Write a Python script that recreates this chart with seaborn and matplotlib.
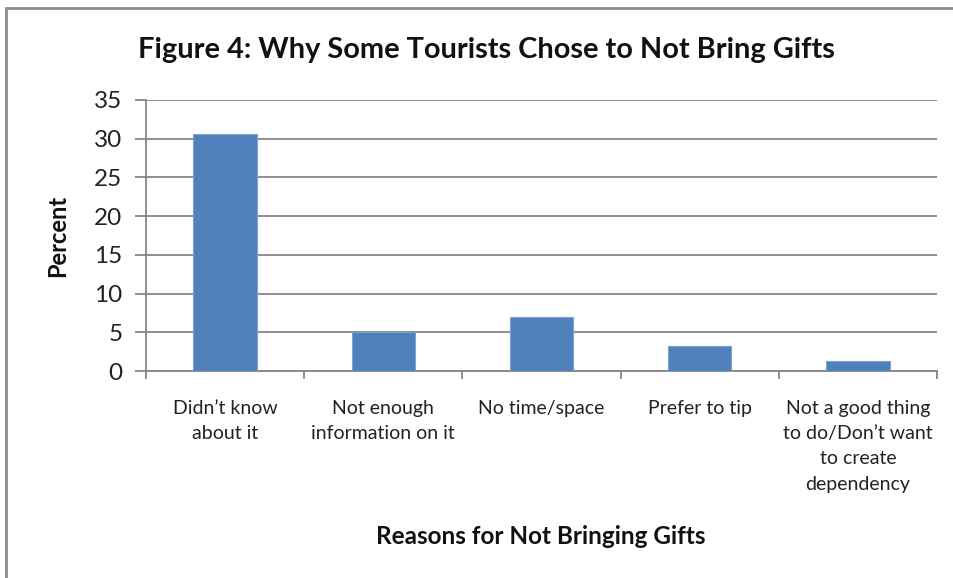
import matplotlib
matplotlib.use("Agg")
import matplotlib.pyplot as plt
import seaborn as sns
import pandas as pd
from matplotlib.patches import Rectangle

categories = [
    "Didn\u2019t know\nabout it",
    "Not enough\ninformation on it",
    "No time/space",
    "Prefer to tip",
    "Not a good thing\nto do/Don\u2019t want\nto create\ndependency",
]
percent = [30.6, 5.1, 7.0, 3.2, 1.3]
y_ticks = [0, 5, 10, 15, 20, 25, 30, 35]

sns.set_theme(style="white")
plt.rcParams["font.family"] = ["Lato", "DejaVu Sans"]

df = pd.DataFrame({"reason": categories, "percent": percent})

W, H = 954, 578
fig = plt.figure(figsize=(W / 100, H / 100), dpi=100)
ax = fig.add_axes([146 / W, (H - 371) / H, (937 - 146) / W, (371 - 100) / H])

grey = "#868686"
sns.barplot(data=df, x="reason", y="percent", color="#4F81BD", width=0.4,
            saturation=1, ax=ax, zorder=3)
for p in ax.patches:
    p.set_edgecolor("#7FA1CF")
    p.set_linewidth(0.8)

ax.set_xlim(-0.5, len(categories) - 0.5)
ax.set_ylim(0, 35)
ax.set_yticks(y_ticks)
ax.set_yticklabels([str(t) for t in y_ticks], fontsize=17.5, color="#222222")
ax.yaxis.grid(True, color=grey, linewidth=1.3, zorder=0)
ax.xaxis.grid(False)

# category boundary ticks on the x axis
ax.set_xticks([i - 0.5 for i in range(len(categories) + 1)], minor=True)
ax.set_xticks(range(len(categories)))
ax.set_xticklabels(categories, fontsize=14, color="#222222", linespacing=1.58,
                   va="top")
ax.tick_params(axis="x", which="major", length=0, pad=21)
ax.tick_params(axis="x", which="minor", length=6, width=1.3, color=grey,
               direction="out", bottom=True)
ax.tick_params(axis="y", which="major", length=8, width=1.3, color=grey,
               direction="out", left=True, pad=9)

for side in ["top", "right"]:
    ax.spines[side].set_visible(False)
for side in ["left", "bottom"]:
    ax.spines[side].set_color(grey)
    ax.spines[side].set_linewidth(1.3)

ax.set_xlabel("")
ax.set_ylabel("")
fig.text(58 / W, 1 - 236 / H, "Percent", rotation=90, fontsize=17,
         fontweight="bold", ha="center", va="center", color="#111111")
fig.text(541 / W, 1 - 536 / H, "Reasons for Not Bringing Gifts", fontsize=17.5,
         fontweight="bold", ha="center", va="center", color="#111111")
fig.text(486 / W, 1 - 50 / H, "Figure 4: Why Some Tourists Chose to Not Bring Gifts",
         fontsize=20.9, fontweight="bold", ha="center", va="center",
         color="#111111")

# chart area frame
fig.patches.append(Rectangle((6.5 / W, -0.05), 1.1, 1 - 7.5 / H + 0.05,
                             transform=fig.transFigure, fill=False,
                             edgecolor="#8c8c8c", linewidth=2, zorder=10))

fig.savefig("out.png", dpi=100)
